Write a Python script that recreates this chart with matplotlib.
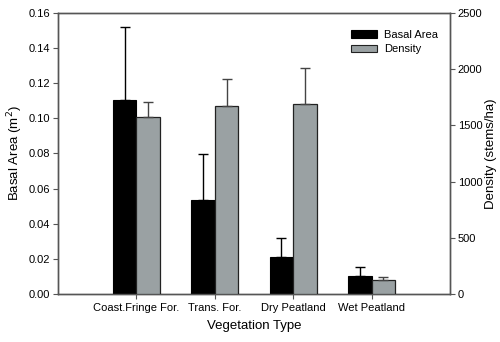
import matplotlib
matplotlib.use("Agg")
import matplotlib.pyplot as plt
import numpy as np
from matplotlib.patches import Patch

plt.rcParams['font.family'] = ['Liberation Sans', 'DejaVu Sans']

categories = ["Coast.Fringe For.", "Trans. For.", "Dry Peatland", "Wet Peatland"]
basal_area = [0.1105, 0.0535, 0.0212, 0.0103]
basal_err = [0.0414, 0.0261, 0.0108, 0.0052]
density = [1572, 1673, 1690, 122]
density_err = [133, 242, 318, 32]
left_ticks = [0.00, 0.02, 0.04, 0.06, 0.08, 0.10, 0.12, 0.14, 0.16]
right_ticks = [0, 500, 1000, 1500, 2000, 2500]

fig = plt.figure(figsize=(5.0, 3.42), dpi=100)
ax = fig.add_axes([0.116, 0.1404, 0.784, 0.8216])
ax2 = ax.twinx()

x = np.arange(1, len(categories) + 1)
w = 0.3
black = '#000000'
grey = '#9aa1a3'
spine_c = '#555555'

ax.bar(x - w/2, basal_area, width=w, color=black, edgecolor='black', linewidth=0.8,
       yerr=[np.zeros(len(x)), basal_err], error_kw=dict(ecolor='black', elinewidth=1.0,
       capsize=3.5, capthick=1.0), zorder=3)
ax2.bar(x + w/2, density, width=w, color=grey, edgecolor='#222222', linewidth=0.9,
        yerr=[np.zeros(len(x)), density_err], error_kw=dict(ecolor='#444444', elinewidth=1.0,
        capsize=3.5, capthick=1.0), zorder=3)

ax.set_xlim(0, 5)
ax.set_ylim(0, 0.16)
ax2.set_ylim(0, 2500)
ax.set_xticks(x)
ax.set_xticklabels(categories, fontsize=8)
ax.set_yticks(left_ticks)
ax.set_yticklabels([f"{t:.2f}" for t in left_ticks], fontsize=8)
ax2.set_yticks(right_ticks)
ax2.set_yticklabels([str(t) for t in right_ticks], fontsize=8)

for a in (ax, ax2):
    for s in a.spines.values():
        s.set_color(spine_c)
        s.set_linewidth(1.0)
    a.tick_params(length=3.5, width=0.8, color=spine_c, pad=2)
ax.tick_params(axis='x', pad=3)

ax.set_xlabel("Vegetation Type", fontsize=9.5, labelpad=5)
ax.set_ylabel("Basal Area (m$^2$)", fontsize=9.5, labelpad=3)
ax2.set_ylabel("Density (stems/ha)", fontsize=9.5, labelpad=2)

handles = [Patch(facecolor=black, edgecolor='black', linewidth=0.8),
           Patch(facecolor=grey, edgecolor='#222222', linewidth=0.8)]
ax2.legend(handles, ["Basal Area", "Density"], loc='upper right', frameon=False,
           fontsize=8, handlelength=2.4, handleheight=0.7, handletextpad=0.6,
           labelspacing=0.4, bbox_to_anchor=(0.995, 0.975))

fig.savefig("out.png", dpi=100)
